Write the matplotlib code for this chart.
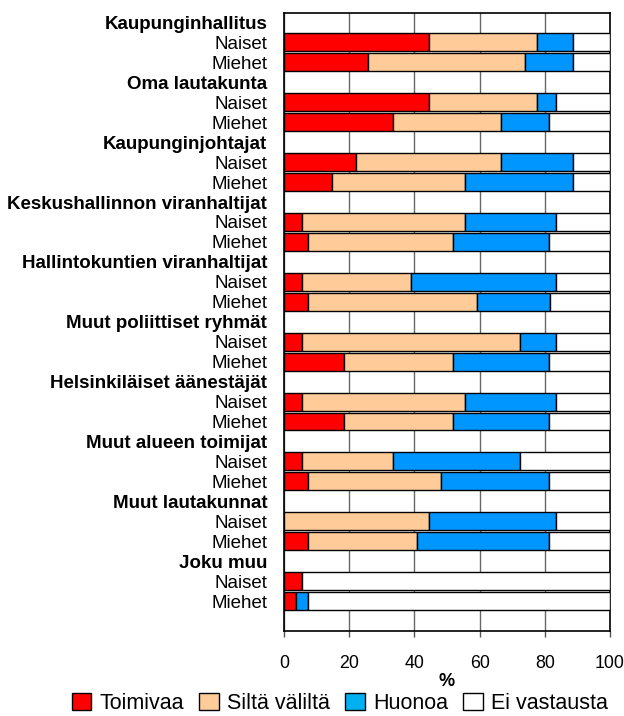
import matplotlib
matplotlib.use("Agg")
import matplotlib.pyplot as plt
import numpy as np
from matplotlib.patches import Patch

plt.rcParams['font.family'] = ['Liberation Sans', 'DejaVu Sans']

groups = ["Kaupunginhallitus", "Oma lautakunta", "Kaupunginjohtajat",
          "Keskushallinnon viranhaltijat", "Hallintokuntien viranhaltijat",
          "Muut poliittiset ryhmät", "Helsinkiläiset äänestäjät",
          "Muut alueen toimijat", "Muut lautakunnat", "Joku muu"]
sub_labels = ["Naiset", "Miehet"]
series_names = ["Toimivaa", "Siltä väliltä", "Huonoa", "Ei vastausta"]

# values per group: [Naiset, Miehet]
toimivaa = [[44.4, 25.9], [44.4, 33.3], [22.2, 14.8], [5.6, 7.4], [5.6, 7.4],
            [5.6, 18.5], [5.6, 18.5], [5.6, 7.4], [0.0, 7.4], [5.6, 3.7]]
silta = [[33.3, 48.1], [33.3, 33.3], [44.4, 40.7], [50.0, 44.4], [33.3, 51.9],
         [66.7, 33.3], [50.0, 33.3], [27.8, 40.7], [44.4, 33.3], [0.0, 0.0]]
huonoa = [[11.1, 14.8], [5.6, 14.8], [22.2, 33.3], [27.8, 29.6], [44.4, 22.2],
          [11.1, 29.6], [27.8, 29.6], [38.9, 33.3], [38.9, 40.7], [0.0, 3.7]]
ei_vastausta = [[11.1, 11.1], [16.7, 18.5], [11.1, 11.1], [16.7, 18.5], [16.7, 18.5],
                [16.7, 18.5], [16.7, 18.5], [27.8, 18.5], [16.7, 18.5], [94.4, 92.6]]

colors = ["#FF0000", "#FFCC99", "#0096FF", "#FFFFFF"]
legend_colors = ["#FF0000", "#FFCC99", "#00B0F0", "#FFFFFF"]

# build rows
labels, bold, ypos_bar, vals = [], [], [], []
row = 0
for gi, g in enumerate(groups):
    labels.append(g); bold.append(True); row += 1
    for si, s in enumerate(sub_labels):
        labels.append(s); bold.append(False)
        ypos_bar.append(row)
        vals.append([toimivaa[gi][si], silta[gi][si], huonoa[gi][si], ei_vastausta[gi][si]])
        row += 1
labels.append(""); bold.append(False); row += 1
nrows = row
vals = np.array(vals)

fig = plt.figure(figsize=(6.24, 7.16), dpi=100)
ax = fig.add_axes([284/624, 1-631/716, (610-284)/624, (631-12.5)/716])

left = np.zeros(len(ypos_bar))
for k in range(4):
    ax.barh(ypos_bar, vals[:, k], left=left, height=0.9, color=colors[k],
            edgecolor="black", linewidth=1.0, zorder=3)
    left += vals[:, k]

ax.set_xlim(0, 100)
ax.set_ylim(nrows - 0.5, -0.5)
ax.set_xticks([0, 20, 40, 60, 80, 100])
ax.tick_params(axis='x', direction='out', length=4, width=1, colors='#555555',
               labelcolor='black', labelsize=12.8, pad=13)
ax.set_yticks(range(nrows))
ax.set_yticklabels(labels, fontsize=13.5)
for t, b in zip(ax.get_yticklabels(), bold):
    if b:
        t.set_fontweight('bold')
ax.tick_params(axis='y', length=0, pad=12)
ax.grid(axis='x', color='#666666', linewidth=1.0, zorder=0)
ax.set_axisbelow(True)
for sp in ax.spines.values():
    sp.set_color('black')
    sp.set_linewidth(1.2)
ax.set_xlabel('%', fontsize=13, fontweight='bold', labelpad=1)

handles = [Patch(facecolor=c, edgecolor='black', linewidth=1.0) for c in legend_colors]
fig.legend(handles, series_names, loc='center', bbox_to_anchor=(340/624, 1-703.5/716),
           ncol=4, frameon=False, fontsize=15.5, handlelength=0.9, handleheight=0.8,
           handletextpad=0.4, columnspacing=0.7, borderpad=0)

fig.savefig("out.png", dpi=100)
